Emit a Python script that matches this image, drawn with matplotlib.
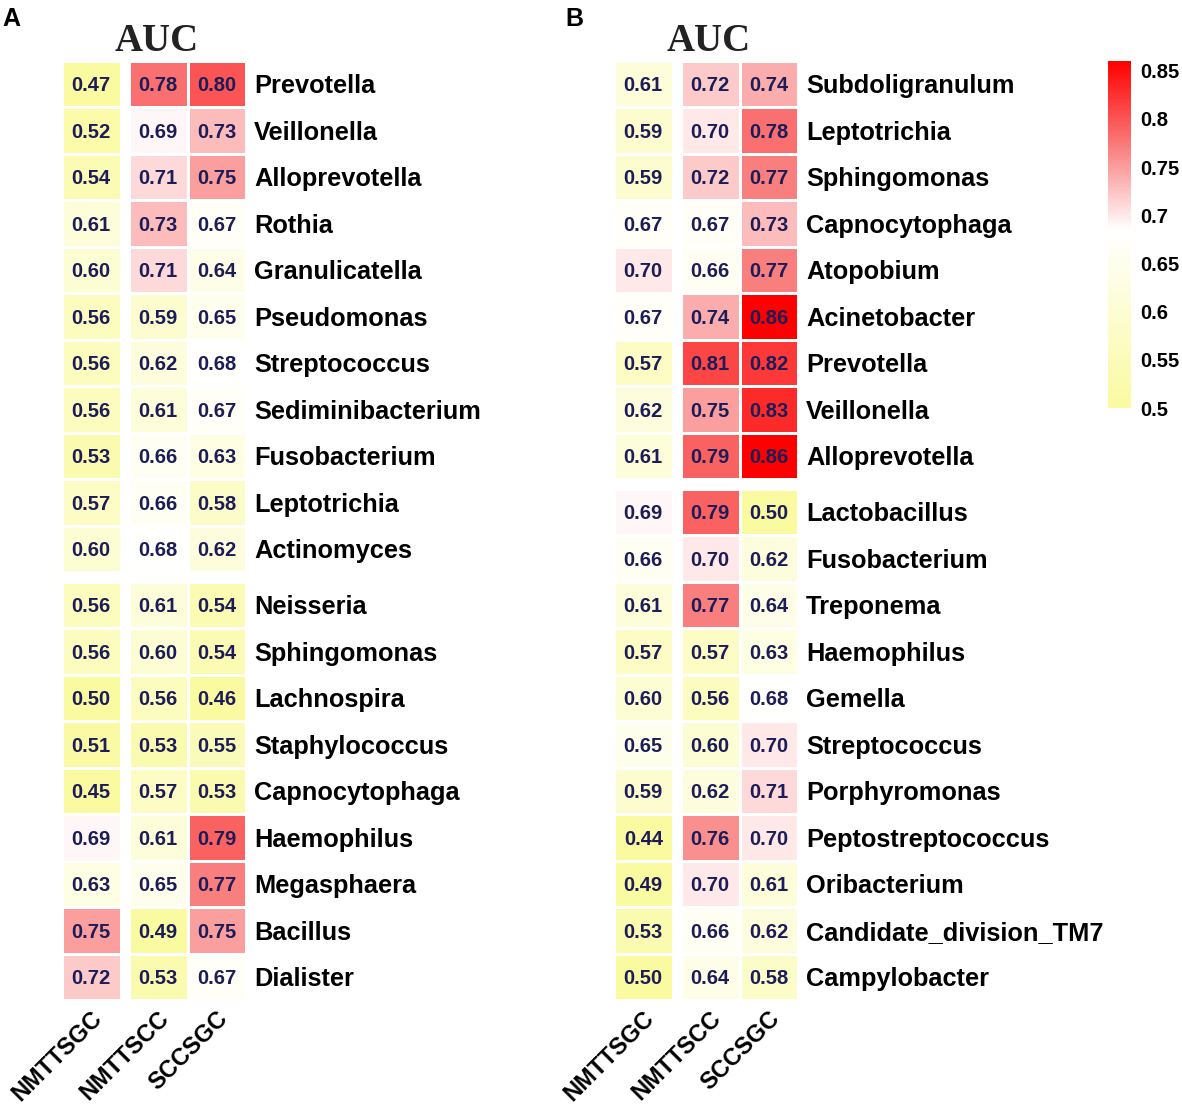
import numpy as np
import matplotlib
matplotlib.use('Agg')
import matplotlib.pyplot as plt
from matplotlib.colors import LinearSegmentedColormap, Normalize
from matplotlib.transforms import offset_copy
import matplotlib.cm as cm

plt.rcParams['font.family'] = ['Liberation Sans', 'DejaVu Sans']

columns = ['NMTTSGC', 'NMTTSCC', 'SCCSGC']

# Panel A
taxa_a = ['Prevotella', 'Veillonella', 'Alloprevotella', 'Rothia', 'Granulicatella',
          'Pseudomonas', 'Streptococcus', 'Sediminibacterium', 'Fusobacterium',
          'Leptotrichia', 'Actinomyces',
          'Neisseria', 'Sphingomonas', 'Lachnospira', 'Staphylococcus',
          'Capnocytophaga', 'Haemophilus', 'Megasphaera', 'Bacillus', 'Dialister']
nmttsgc_a = [0.47, 0.52, 0.54, 0.61, 0.60, 0.56, 0.56, 0.56, 0.53, 0.57, 0.60,
             0.56, 0.56, 0.50, 0.51, 0.45, 0.69, 0.63, 0.75, 0.72]
nmttscc_a = [0.78, 0.69, 0.71, 0.73, 0.71, 0.59, 0.62, 0.61, 0.66, 0.66, 0.68,
             0.61, 0.60, 0.56, 0.53, 0.57, 0.61, 0.65, 0.49, 0.53]
sccsgc_a = [0.80, 0.73, 0.75, 0.67, 0.64, 0.65, 0.68, 0.67, 0.63, 0.58, 0.62,
            0.54, 0.54, 0.46, 0.55, 0.53, 0.79, 0.77, 0.75, 0.67]
split_a = 11

# Panel B
taxa_b = ['Subdoligranulum', 'Leptotrichia', 'Sphingomonas', 'Capnocytophaga',
          'Atopobium', 'Acinetobacter', 'Prevotella', 'Veillonella', 'Alloprevotella',
          'Lactobacillus', 'Fusobacterium', 'Treponema', 'Haemophilus', 'Gemella',
          'Streptococcus', 'Porphyromonas', 'Peptostreptococcus', 'Oribacterium',
          'Candidate_division_TM7', 'Campylobacter']
nmttsgc_b = [0.61, 0.59, 0.59, 0.67, 0.70, 0.67, 0.57, 0.62, 0.61,
             0.69, 0.66, 0.61, 0.57, 0.60, 0.65, 0.59, 0.44, 0.49, 0.53, 0.50]
nmttscc_b = [0.72, 0.70, 0.72, 0.67, 0.66, 0.74, 0.81, 0.75, 0.79,
             0.79, 0.70, 0.77, 0.57, 0.56, 0.60, 0.62, 0.76, 0.70, 0.66, 0.64]
sccsgc_b = [0.74, 0.78, 0.77, 0.73, 0.77, 0.86, 0.82, 0.83, 0.86,
            0.50, 0.62, 0.64, 0.63, 0.68, 0.70, 0.71, 0.70, 0.61, 0.62, 0.58]
split_b = 9

cbar_ticks = [0.5, 0.55, 0.6, 0.65, 0.7, 0.75, 0.8, 0.85]
cbar_labels = ['0.5', '0.55', '0.6', '0.65', '0.7', '0.75', '0.8', '0.85']

W, H = 1182, 1104
fig = plt.figure(figsize=(W / 100, H / 100), dpi=100)


def px_axes(x0, y0, w, h):
    return fig.add_axes([x0 / W, 1 - (y0 + h) / H, w / W, h / H])


VMIN, VMAX, VWHITE = 0.5, 0.86, 0.685
cmap = LinearSegmentedColormap.from_list(
    'auc', [(0.0, '#FAFAA0'),
            ((VWHITE - VMIN) / (VMAX - VMIN), '#FFFFFF'),
            ((0.77 - VMIN) / (VMAX - VMIN), '#F98080'),
            (1.0, '#FF0000')])
norm = Normalize(VMIN, VMAX, clip=True)

GX, GY = 0.143, 0.204
PX_W, PX_H = 58.6, 46.5
TOP = 60.7
VALUE_COLOR = '#1C1C58'


def draw_panel(x0, taxa, cols, split, letter, letter_x):
    n = len(taxa)
    data = np.array(cols).T
    full = np.full((n + 1, 4), np.nan)
    full[:split, 0] = data[:split, 0]
    full[:split, 2:] = data[:split, 1:]
    full[split + 1:, 0] = data[split:, 0]
    full[split + 1:, 2:] = data[split:, 1:]
    xe = np.array([0, 1, 1 + GX, 2 + GX, 3 + GX])
    ye = np.concatenate([np.arange(split + 1), split + GY + np.arange(n - split + 1)])

    w = (3 + GX) * PX_W
    h = (n + GY) * PX_H
    ax = px_axes(x0, TOP, w, h)
    ax.pcolormesh(xe, ye, np.ma.masked_invalid(full), cmap=cmap, norm=norm,
                  edgecolors='white', linewidth=1.9)
    ax.set_xlim(0, 3 + GX)
    ax.set_ylim(n + GY, 0)
    ax.axis('off')

    xc = [0.5, 1.5 + GX, 2.5 + GX]
    yc = [i + 0.5 if i < split else i + 0.5 + GY for i in range(n)]
    for i in range(n):
        for j in range(3):
            ax.text(xc[j], yc[i], f'{data[i, j]:.2f}', ha='center', va='center_baseline',
                    fontsize=14.5, fontweight='bold', color=VALUE_COLOR)
    tr_row = offset_copy(ax.transData, fig=fig, x=8, y=0, units='dots')
    for i, name in enumerate(taxa):
        ax.text(3 + GX, yc[i], name, transform=tr_row, ha='left', va='center_baseline',
                fontsize=18.3, fontweight='bold', color='black')
    tr_col = offset_copy(ax.transData, fig=fig, x=7, y=-15, units='dots')
    for j, c in enumerate(columns):
        ax.text(xc[j], n + GY, c, transform=tr_col, rotation=45, rotation_mode='anchor',
                ha='right', va='center', fontsize=17, fontweight='bold', color='black')

    fig.text((x0 + w / 2 + 3) / W, 1 - 51 / H, 'AUC', ha='center', va='baseline',
             family=['Liberation Serif', 'DejaVu Serif'], fontweight='bold',
             fontsize=28, color='#222222')
    fig.text(letter_x / W, 1 - 26 / H, letter, ha='left', va='baseline',
             fontsize=18, fontweight='bold', color='black')


draw_panel(62, taxa_a, [nmttsgc_a, nmttscc_a, sccsgc_a], split_a, 'A', 2)
draw_panel(614, taxa_b, [nmttsgc_b, nmttscc_b, sccsgc_b], split_b, 'B', 565)

cax = px_axes(1108, 61, 23, 347)
cb = fig.colorbar(cm.ScalarMappable(norm=norm, cmap=cmap), cax=cax)
cb.outline.set_visible(False)
cb.set_ticks(cbar_ticks)
cb.set_ticklabels(cbar_labels)
cax.tick_params(length=0, pad=6.5)
for tl in cax.get_yticklabels():
    tl.set_fontsize(14.5)
    tl.set_fontweight('bold')

fig.savefig('out.png', dpi=100, facecolor='white')
